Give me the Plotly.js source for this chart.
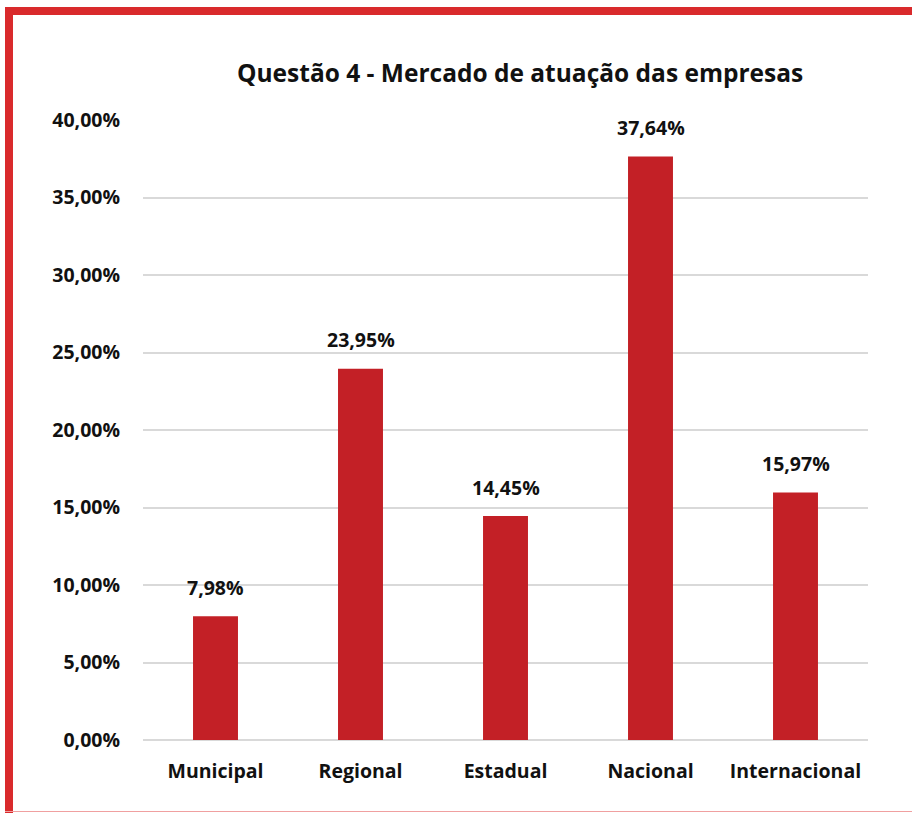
<!DOCTYPE html>
<html><head><meta charset="utf-8">
<script src="https://cdn.plot.ly/plotly-3.0.1.min.js"></script>
<style>
html,body{margin:0;padding:0;background:#fff;}
#wrap{position:relative;width:912px;height:813px;overflow:hidden;}
#chart{position:absolute;left:0;top:0;width:912px;height:813px;}
.b{position:absolute;background:#d92a2c;}
</style></head>
<body><div id="wrap"><div id="chart"></div>
<div class="b" style="left:5px;top:7px;width:907px;height:8px;"></div>
<div class="b" style="left:5px;top:7px;width:8px;height:806px;"></div>
<div class="b" style="left:5px;top:811px;width:907px;height:1px;background:#f0a0a0;"></div>
</div>
<script>
var categories = ["Municipal","Regional","Estadual","Nacional","Internacional"];
var values = [7.98, 23.95, 14.45, 37.64, 15.97];
var yTicks = [0,5,10,15,20,25,30,35,40];

var fmt = function(v){ return v.toFixed(2).replace('.', ',') + '%'; };
var font = "Open Sans, Noto Sans, sans-serif";

var trace = {
  type:'bar', x:categories, y:values,
  marker:{color:'#c32026'},
  hoverinfo:'none'
};
var annotations = categories.map(function(c,i){
  return {x:c, y:values[i], text:'<b>'+fmt(values[i])+'</b>', showarrow:false,
    yanchor:'middle', yshift:29, font:{family:font, size:19.5, color:'#111'}};
});
annotations.push({xref:'paper', yref:'paper', x:0.52, y:1, yshift:48, yanchor:'middle',
  text:'<b>Questão 4 - Mercado de atuação das empresas</b>', showarrow:false,
  font:{family:font, size:24.5, color:'#111'}});

var layout = {
  width:912, height:813,
  margin:{l:143, r:44, t:120, b:73},
  paper_bgcolor:'rgba(0,0,0,0)', plot_bgcolor:'rgba(0,0,0,0)',
  separators:',.',
  bargap:0.69,
  showlegend:false,
  xaxis:{tickfont:{family:font, size:19.5, color:'#111', weight:'bold'}, showline:false, ticks:'', showgrid:false, zeroline:false, fixedrange:true, ticklabelstandoff:17},
  yaxis:{range:[0,40], tickvals:yTicks, ticktext:yTicks.map(function(v){return '<b>'+fmt(v)+'</b>';}),
    tickfont:{family:font, size:19.5, color:'#111'}, gridcolor:'#d9d9d9', gridwidth:2,
    zeroline:true, zerolinecolor:'#d9d9d9', zerolinewidth:2, showline:false, ticks:'', ticklabelstandoff:22, fixedrange:true},
  annotations:annotations
};
Plotly.newPlot('chart', [trace], layout, {displayModeBar:false, staticPlot:true});
</script></body></html>
